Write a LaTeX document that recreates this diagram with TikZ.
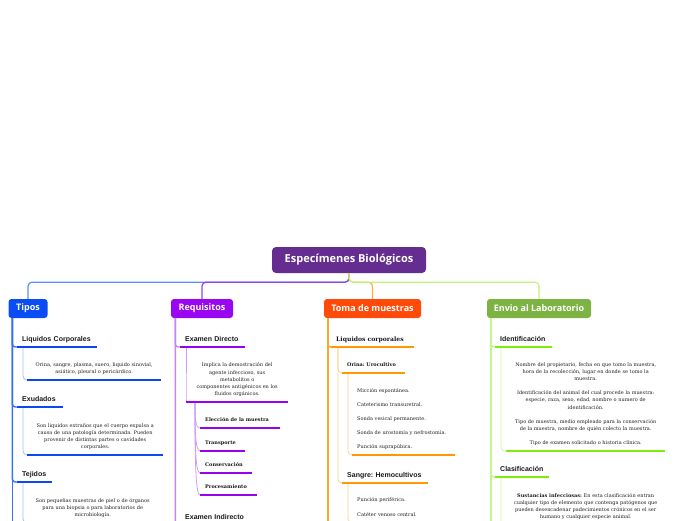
\documentclass[tikz,border=0pt]{standalone}
\usepackage{fontspec}
\setmainfont{DejaVu Serif}
\newfontfamily\titlefont{Open Sans}
\newfontfamily\labelfont{Liberation Sans}
\frenchspacing

\definecolor{mainpurple}{HTML}{652D90}
\definecolor{tiposblue}{HTML}{0A4DF5}
\definecolor{reqpurple}{HTML}{9A05F2}
\definecolor{tomaorange}{HTML}{FF4A0A}
\definecolor{enviogreen}{HTML}{7CB342}
% connector shades
\definecolor{linkblue}{HTML}{5D8DF5}
\definecolor{linkpurple}{HTML}{8F45EC}
\definecolor{linkorange}{HTML}{FFB040}
\definecolor{linkgreen}{HTML}{C3F07C}
\definecolor{trunkblue}{HTML}{3C6EF3}
\definecolor{trunkpurple}{HTML}{C685F6}
\definecolor{trunkorange}{HTML}{FFA42E}
\definecolor{trunkgreen}{HTML}{C2F58A}
\definecolor{ulblue}{HTML}{0A48F5}
\definecolor{ulpurple}{HTML}{9900EE}
\definecolor{ulorange}{HTML}{FF9900}
\definecolor{ulgreen}{HTML}{7CF000}
\definecolor{twigblue}{HTML}{A8BEF8}
\definecolor{twigpurple}{HTML}{D39CF8}
\definecolor{twigorange}{HTML}{FFD08A}
\definecolor{twiggreen}{HTML}{D2F5A8}

\begin{document}
\begin{tikzpicture}[
  x=1pt, y=-1pt,
  mainnode/.style={fill=mainpurple, rounded corners=4pt, text=white, inner sep=0pt,
    minimum width=154pt, minimum height=26pt, font=\titlefont\bfseries\fontsize{11}{13}\selectfont},
  branchnode/.style={fill=#1, rounded corners=3pt, text=white, inner sep=0pt,
    minimum height=19pt, font=\titlefont\bfseries\fontsize{9}{11}\selectfont},
  sublabel/.style={anchor=south west, inner xsep=5pt, inner ysep=3.5pt, text depth=1.5pt,
    text width=#1, align=left, text=black!90, font=\labelfont\bfseries\fontsize{7}{8}\selectfont},
  itemlabel/.style={anchor=south west, inner xsep=5pt, inner ysep=5pt, text depth=1.2pt,
    text width=#1, align=left, text=black!90, font=\bfseries\fontsize{5}{6}\selectfont},
  desctext/.style={anchor=south west, inner xsep=0pt, inner ysep=5pt,
    text width=#1, align=center, text=black!88, font=\fontsize{5}{7.2}\selectfont},
  listtext/.style={anchor=south west, inner xsep=5pt, inner ysep=5.5pt,
    text width=#1, align=left, text=black!88, font=\fontsize{5}{7}\selectfont},
  topline/.style={draw=#1, line width=1.2pt, rounded corners=4pt},
  trunk/.style={draw=#1, line width=1.4pt, rounded corners=3pt},
  twig/.style={draw=#1, line width=0.8pt, rounded corners=4pt},
  uline/.style={draw=#1, line width=2.6pt}
]
\clip (0,0) rectangle (696,520);
\coordinate (bottom) at (0,530);

% Central topic
\node[mainnode] (center) at (349,260) {Especímenes Biológicos};

% Main branches
\node[branchnode=tiposblue, minimum width=39pt] (tipos) at (28,308.5) {Tipos};
\node[branchnode=reqpurple, minimum width=62pt] (req) at (202,308.5) {Requisitos};
\node[branchnode=tomaorange, minimum width=97pt] (toma) at (372.5,308.5) {Toma de muestras};
\node[branchnode=enviogreen, minimum width=104pt] (envio) at (539,308.5) {Envio al Laboratorio};

% Connectors from the central topic
\draw[topline=linkblue] (center.south) -- ++(0,9) -| (tipos.north);
\draw[topline=linkpurple] (center.south) -- ++(0,9) -| (req.north);
\draw[topline=linkorange] (center.south) -- ++(0,9) -| (toma.north);
\draw[topline=linkgreen] (center.south) -- ++(0,9) -| (envio.north);

% Tipos
\coordinate (tp) at ([xshift=4pt]tipos.south west);
\draw[trunk=trunkblue] (tp) -- (tp |- bottom);
\node[sublabel=70pt] (liq) at (17,347) {Liquidos Corporales};
\node[desctext=134pt] (liqd) at (27,380) {Orina, sangre, plasma, suero, liquido sinovial,\\asiático, pleural o pericárdico.};
\node[sublabel=36pt] (exu) at (17,407) {Exudados};
\node[desctext=136pt] (exud) at (27,455) {Son liquidos extraños que el cuerpo expulsa a\\causa de una patología determinada. Pueden\\provenir de distintas partes o cavidades\\corporales.};
\node[sublabel=25pt] (tej) at (17,482) {Tejidos};
\node[desctext=131pt] (tejd) at (27,523) {Son pequeñas muestras de piel o de órganos\\para una biopsia o para laboratorios de\\microbiología.};
\draw[trunk=trunkblue] (tp) |- (liq.south west);
\draw[trunk=trunkblue] (tp) |- (exu.south west);
\draw[trunk=trunkblue] (tp) |- (tej.south west);
\draw[twig=twigblue] ([xshift=6pt]liq.south west) |- (liqd.south west);
\draw[twig=twigblue] ([xshift=6pt]exu.south west) |- (exud.south west);
\draw[twig=twigblue] ([xshift=6pt]tej.south west) |- (tejd.south west);
\draw[uline=ulblue] (liq.south west) -- (liq.south east);
\draw[uline=ulblue] (liqd.south west) -- (liqd.south east);
\draw[uline=ulblue] (exu.south west) -- (exu.south east);
\draw[uline=ulblue] (exud.south west) -- (exud.south east);
\draw[uline=ulblue] (tej.south west) -- (tej.south east);
\draw[uline=ulblue] (tejd.south west) -- (tejd.south east);

% Requisitos
\coordinate (rp) at ([xshift=4.5pt]req.south west);
\draw[trunk=trunkpurple] (rp) -- (rp |- bottom);
\node[sublabel=55pt] (edir) at (180,347) {Examen Directo};
\node[desctext=102pt] (edird) at (186,402) {Implica la demostración del\\agente infeccioso, sus\\metabolitos o\\componentes antigénicos en los\\fluidos orgánicos.};
\node[itemlabel=70pt] (elec) at (200,428) {Elección de la muestra};
\node[itemlabel=35pt] (trans) at (200,451) {Transporte};
\node[itemlabel=42pt] (cons) at (200,473) {Conservación};
\node[itemlabel=47pt] (proc) at (200,495) {Procesamiento};
\node[sublabel=60pt] (eind) at (180,524.5) {Examen Indirecto};
\draw[trunk=trunkpurple] (rp) |- (edir.south west);
\draw[trunk=trunkpurple] (rp) |- (eind.south west);
\draw[twig=twigpurple] ([xshift=6pt]edir.south west) |- (edird.south west);
\coordinate (edj) at ([xshift=9pt]edird.south west);
\draw[twig=twigpurple] (edj) .. controls +(0,14) and +(-5,0) .. (elec.south west);
\draw[twig=twigpurple] (edj) .. controls +(0,25) and +(-5,0) .. (trans.south west);
\draw[twig=twigpurple] (edj) .. controls +(0,36) and +(-5,0) .. (cons.south west);
\draw[twig=twigpurple] (edj) .. controls +(0,47) and +(-5,0) .. (proc.south west);
\draw[uline=ulpurple] (edir.south west) -- (edir.south east);
\draw[uline=ulpurple] (edird.south west) -- (edird.south east);
\draw[uline=ulpurple] (elec.south west) -- (elec.south east);
\draw[uline=ulpurple] (trans.south west) -- (trans.south east);
\draw[uline=ulpurple] (cons.south west) -- (cons.south east);
\draw[uline=ulpurple] (proc.south west) -- (proc.south east);
\draw[uline=ulpurple] (eind.south west) -- (eind.south east);

% Toma de muestras
\coordinate (mp) at ([xshift=4pt]toma.south west);
\draw[trunk=trunkorange] (mp) -- (mp |- bottom);
\node[sublabel=73pt, font=\bfseries\fontsize{6.1}{7}\selectfont] (lcorp) at (331,347) {Liquidos corporales};
\node[itemlabel=53pt] (orina) at (342,373) {Orina: Urocultivo};
\node[listtext=93pt] (orinad) at (352,455) {Micción espontánea.\\[7pt]Cateterismo transuretral.\\[7pt]Sonda vesical permanente.\\[7pt]Sonda de urostomía y nefrostomía.\\[7pt]Punción suprapúbica.};
\node[sublabel=76pt] (sangre) at (342,483) {Sangre: Hemocultivos};
\node[listtext=93pt] (sangred) at (352,522.5) {Punción periférica.\\[8pt]Catéter venoso central.};
\draw[trunk=trunkorange] (mp) |- (lcorp.south west);
\coordinate (lcj) at ([xshift=7pt]lcorp.south west);
\draw[twig=twigorange] (lcj) |- (orina.south west);
\draw[twig=twigorange] (lcj) |- (sangre.south west);
\draw[twig=twigorange] ([xshift=6pt]orina.south west) |- (orinad.south west);
\draw[twig=twigorange] ([xshift=6pt]sangre.south west) |- (sangred.south west);
\draw[uline=ulorange] (lcorp.south west) -- (lcorp.south east);
\draw[uline=ulorange] (orina.south west) -- (orina.south east);
\draw[uline=ulorange] (orinad.south west) -- (orinad.south east);
\draw[uline=ulorange] (sangre.south west) -- (sangre.south east);
\draw[uline=ulorange] (sangred.south west) -- (sangred.south east);

% Envio al Laboratorio
\coordinate (ep) at ([xshift=4pt]envio.south west);
\draw[trunk=trunkgreen] (ep) -- (ep |- bottom);
\node[sublabel=47pt] (ident) at (495,347) {Identificación};
\node[desctext=159pt] (identd) at (506,451) {Nombre del propietario, fecha en que tomo la muestra,\\hora de la recolección, lugar en donde se tomo la\\muestra.\\[7pt]Identificación del animal del cual procede la muestra:\\especie, raza, sexo, edad, nombre o numero de\\identificación.\\[7pt]Tipo de muestra, medio empleado para la conservación\\de la muestra, nombre de quién colecto la muestra.\\[7pt]Tipo de examen solicitado o historia clínica.};
\node[sublabel=44pt] (clas) at (495,477) {Clasificación};
\node[desctext=159pt] (clasd) at (506,525) {\textbf{Sustancias infecciosas:} En esta clasificación entran\\cualquier tipo de elemento que contenga patógenos que\\pueden desencadenar padecimientos crónicos en el ser\\humano y cualquier especie animal.};
\draw[trunk=trunkgreen] (ep) |- (ident.south west);
\draw[trunk=trunkgreen] (ep) |- (clas.south west);
\draw[twig=twiggreen] ([xshift=6pt]ident.south west) |- (identd.south west);
\draw[twig=twiggreen] ([xshift=6pt]clas.south west) |- (clasd.south west);
\draw[uline=ulgreen] (ident.south west) -- (ident.south east);
\draw[uline=ulgreen] (identd.south west) -- (identd.south east);
\draw[uline=ulgreen] (clas.south west) -- (clas.south east);
\draw[uline=ulgreen] (clasd.south west) -- (clasd.south east);
\end{tikzpicture}
\end{document}
